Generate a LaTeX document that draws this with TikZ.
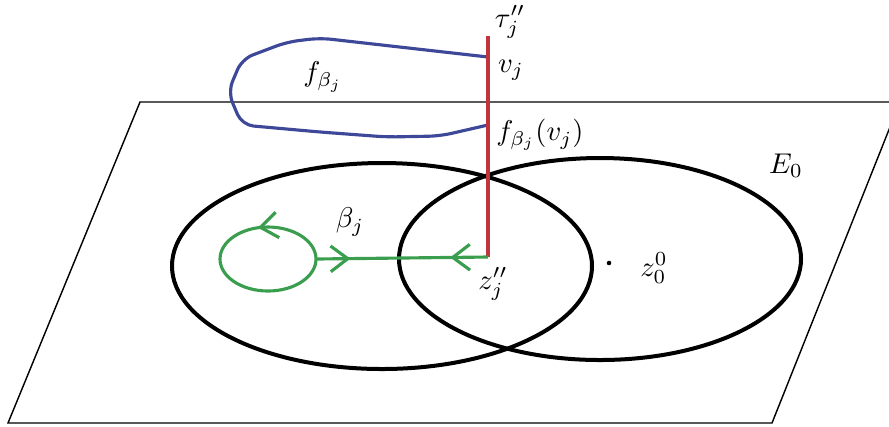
\documentclass[tikz,border=0pt]{standalone}
\usetikzlibrary{arrows.meta,decorations.markings,positioning}
\definecolor{redline}{RGB}{192,52,62}
\definecolor{blueline}{RGB}{62,72,152}
\definecolor{greenline}{RGB}{58,158,78}
\tikzset{barb/.tip={Straight Barb[length=6pt,width=9pt]}}

\begin{document}
\begin{tikzpicture}[x=0.35pt, y=-0.35pt, every node/.style={font=\normalsize},
	plane/.style={line width=0.5pt},
	disc/.style={line width=1.4pt},
	fibre/.style={redline, line width=1.1pt},
	image/.style={blueline, line width=1.1pt, rounded corners=4pt},
	loopline/.style={greenline, line width=1.1pt}]
	\useasboundingbox (0,0) rectangle (889,426);
	\clip (0,0) rectangle (889,426);
	\draw[plane] (140,102) -- (900,102) -- (772,423) -- (8,423) -- cycle;
	\draw[disc] (382,266) ellipse (210 and 103);
	\draw[disc] (600,259) ellipse (201 and 101);
	% points on the red segment
	\coordinate (tau) at (488,36);
	\coordinate (vj) at (488,57);
	\coordinate (fv) at (488,125);
	\coordinate (zj) at (488,257);
	\coordinate (loopE) at (316,259);
	\draw[image] (vj) -- (320,38) -- (287,42) -- (242,59) -- (228,92) -- (242,125)
		-- (320,132) -- (387,137) -- (440,136) -- (fv);
	\draw[fibre] (tau) -- (zj);
	\draw[loopline, postaction={decorate}, decoration={markings,
		mark=at position 0.29 with {\arrow{barb}}}]
		(loopE) arc (0:-360:48 and 32);
	\draw[loopline, postaction={decorate}, decoration={markings,
		mark=at position 0.22 with {\arrow{barb}},
		mark=at position 0.80 with {\arrowreversed{barb}}}]
		(zj) -- (loopE);
	\fill (609,263) circle (0.8pt);
	% labels
	\node (tauL) at (510,22) {$\tau_j''$};
	\node (vjL) at (511,70) {$v_j$};
	\node (fL) at (323,77) {$f_{\beta_j}$};
	\node (fvL) at (540,135) {$f_{\beta_j}(v_j)$};
	\node (E) at (786,166) {$E_0$};
	\node (betaL) at (350,222) {$\beta_j$};
	\node (zjL) at (493,284) {$z_j''$};
	\node (z0L) at (654,268) {$z_0^0$};
\end{tikzpicture}
\end{document}
